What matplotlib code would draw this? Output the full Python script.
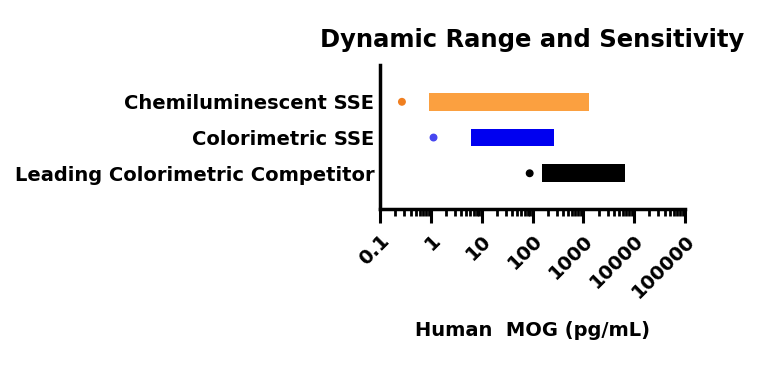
import numpy as np
import matplotlib.pyplot as plt
from matplotlib.ticker import LogLocator, FixedLocator, NullFormatter

# assay ranges (pg/mL)
assays = ['Chemiluminescent SSE', 'Colorimetric SSE', 'Leading Colorimetric Competitor']
range_low = [0.9, 6.2, 157]
range_high = [1300, 262, 6600]
sensitivity = [0.27, 1.13, 88]
colors = ['#fba040', '#0000f0', '#000000']
dot_colors = ['#f07f20', '#4646f0', '#000000']
tick_vals = [0.1, 1, 10, 100, 1000, 10000, 100000]
tick_labels = ['0.1', '1', '10', '100', '1000', '10000', '100000']

plt.rcParams['font.family'] = 'DejaVu Sans'
plt.rcParams['font.weight'] = 'bold'

fig = plt.figure(figsize=(7.68, 3.67), dpi=100)
ax = fig.add_axes([380/768, 1 - 209/367, 305/768, 144/367])

ypos = np.arange(len(assays))
ax.barh(ypos, np.array(range_high) - np.array(range_low), left=range_low,
        height=0.5, color=colors)
ax.scatter(sensitivity, ypos, s=22, color=dot_colors, zorder=3)

ax.set_xscale('log')
ax.set_xlim(0.1, 100000)
ax.set_ylim(3, -1.03)
ax.set_yticks(ypos)
ax.set_yticklabels(assays, fontsize=14, fontweight='bold')
ax.tick_params(axis='y', length=0, pad=4)

ax.xaxis.set_major_locator(FixedLocator(tick_vals))
ax.set_xticklabels(tick_labels, rotation=45, ha='right', va='top',
                   rotation_mode='anchor', fontsize=14, fontweight='bold')
ax.xaxis.set_minor_locator(LogLocator(base=10, subs=np.arange(2, 10), numticks=20))
ax.xaxis.set_minor_formatter(NullFormatter())
ax.tick_params(axis='x', which='major', length=10, width=2.2, direction='out', pad=6)
ax.tick_params(axis='x', which='minor', length=5, width=2.0, direction='out')

for side in ['top', 'right']:
    ax.spines[side].set_visible(False)
for side in ['left', 'bottom']:
    ax.spines[side].set_linewidth(2.5)

ax.set_xlabel('Human  MOG (pg/mL)', fontsize=14, fontweight='bold', labelpad=14)
fig.text(532/768, 1 - 40/367, 'Dynamic Range and Sensitivity', ha='center',
         va='center', fontsize=17.5, fontweight='bold')

plt.savefig('out.png', dpi=100)
